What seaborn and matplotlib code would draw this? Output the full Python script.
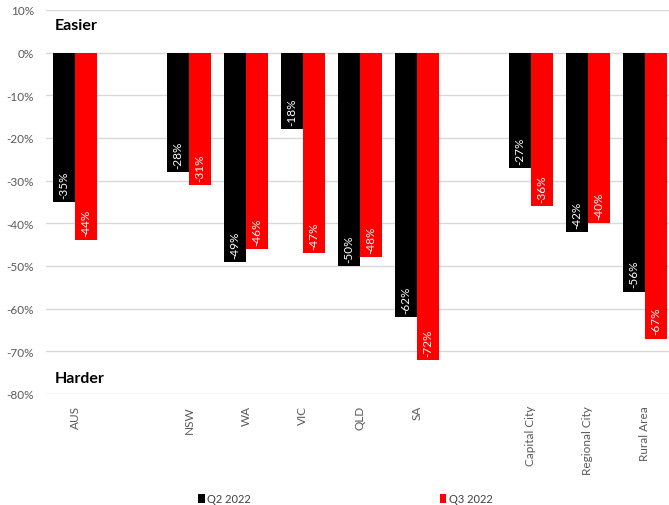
import pandas as pd
import matplotlib.pyplot as plt
import seaborn as sns

# dados
regioes = ['AUS', 'NSW', 'WA', 'VIC', 'QLD', 'SA', 'Capital City', 'Regional City', 'Rural Area']
q2_2022 = [-35, -28, -49, -18, -50, -62, -27, -42, -56]
q3_2022 = [-44, -31, -46, -47, -48, -72, -36, -40, -67]
series = ['Q2 2022', 'Q3 2022']
ordem = ['AUS', '', 'NSW', 'WA', 'VIC', 'QLD', 'SA', ' ', 'Capital City', 'Regional City', 'Rural Area']
yticks = [10, 0, -10, -20, -30, -40, -50, -60, -70, -80]

df = pd.DataFrame({
    'regiao': regioes * 2,
    'serie': [series[0]] * len(regioes) + [series[1]] * len(regioes),
    'valor': q2_2022 + q3_2022,
})

sns.set_style('white')
plt.rcParams['font.family'] = ['Lato', 'DejaVu Sans']

fig = plt.figure(figsize=(6.69, 5.06), dpi=100)
ax = fig.add_axes([0.0695, 0.2194, 0.937, 0.759])

sns.barplot(data=df, x='regiao', y='valor', hue='serie', order=ordem,
            palette=['#000000', '#FF0000'], width=0.78, saturation=1,
            edgecolor='none', ax=ax)

# rotulos dentro das barras
for cont in ax.containers:
    for barra in cont:
        v = barra.get_height()
        if v != v:
            continue
        x = barra.get_x() + barra.get_width() / 2
        ax.annotate(f'{v:.0f}%', (x, v), xytext=(0, 3), textcoords='offset points',
                    rotation=90, ha='center', va='bottom', color='white', fontsize=8.5)

ax.set_xlim(-0.5, 10.5)
ax.set_ylim(-80, 10)
ax.set_yticks(yticks)
ax.set_yticklabels([f'{t}%' for t in yticks])
ax.yaxis.grid(True, color='#d9d9d9', linewidth=1)
ax.set_axisbelow(True)
for s in ax.spines.values():
    s.set_visible(False)
ax.tick_params(axis='y', length=0, pad=9, labelsize=8.5, labelcolor='#595959')
ax.tick_params(axis='x', length=0, pad=8, labelsize=8.5, labelcolor='#595959', rotation=90)
ax.set_xlabel('')
ax.set_ylabel('')

ax.text(0.013, 0.962, 'Easier', transform=ax.transAxes, fontsize=11.5, fontweight='bold',
        color='black', va='center', ha='left')
ax.text(0.013, 0.041, 'Harder', transform=ax.transAxes, fontsize=11.5, fontweight='bold',
        color='black', va='center', ha='left')

sns.move_legend(ax, 'center', bbox_to_anchor=(0.516, 0.012), bbox_transform=fig.transFigure,
                ncol=2, frameon=False, title=None, fontsize=8, handlelength=0.6,
                handleheight=0.8, handletextpad=0.2, columnspacing=17)
for t in ax.get_legend().get_texts():
    t.set_color('#404040')

fig.savefig('out.png', dpi=100)
